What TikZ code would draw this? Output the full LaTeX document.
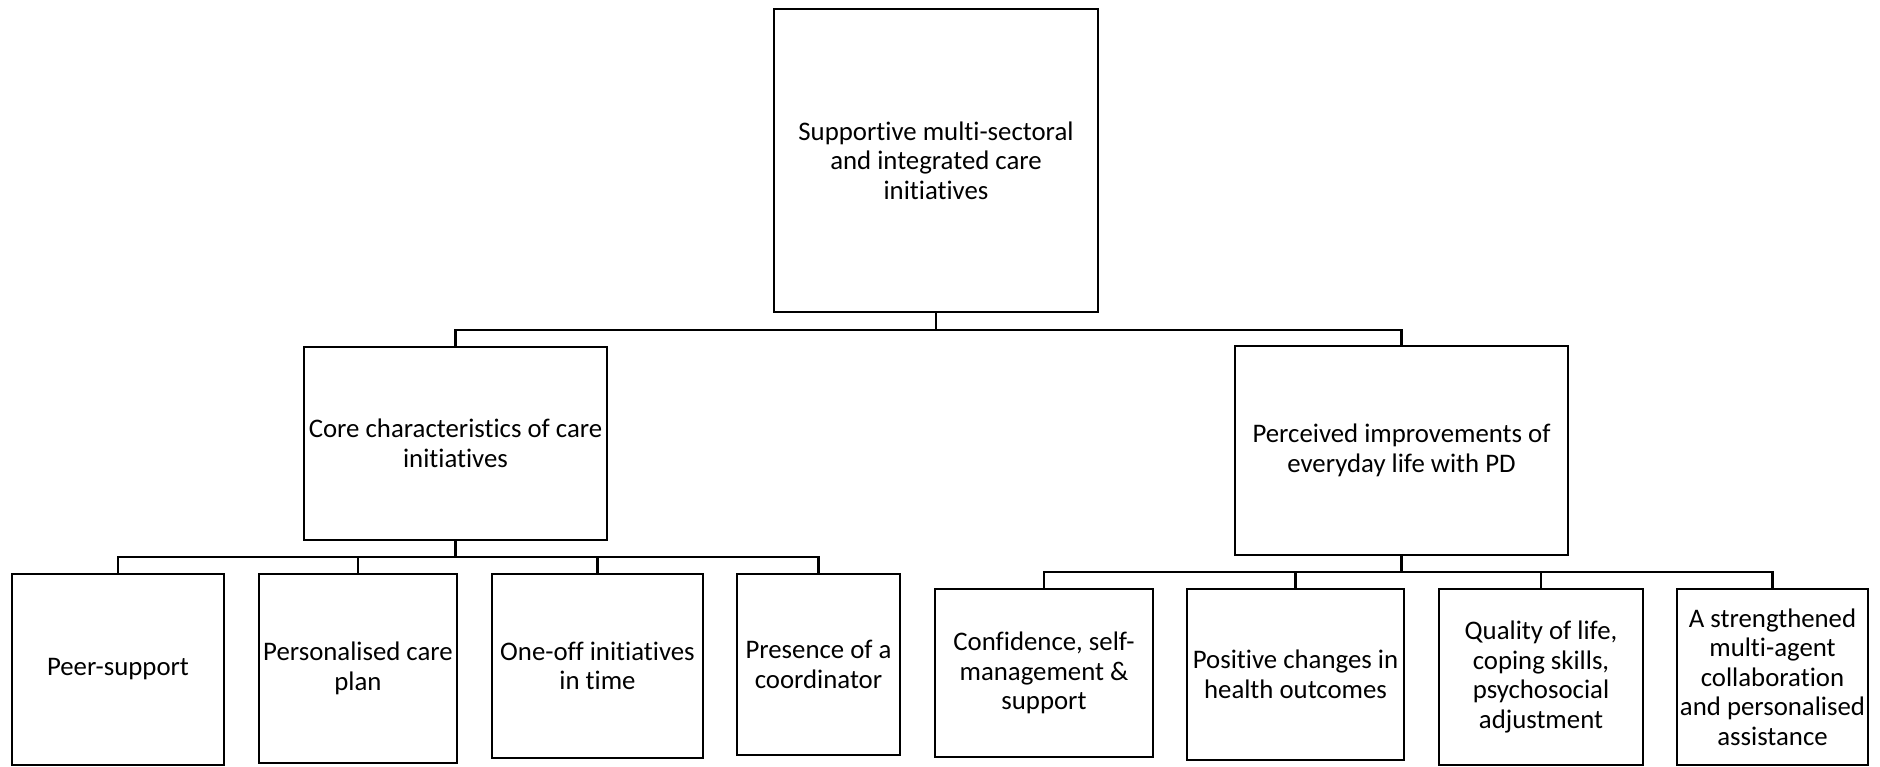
\documentclass[tikz,border=0pt]{standalone}
\usepackage{fontspec}
\setmainfont{Carlito}[Ligatures={NoCommon}]
\begin{document}
\begin{tikzpicture}[x=1pt,y=-1pt,
  box/.style={draw, line width=2.6pt, rectangle, inner sep=0pt, align=center,
              font=\fontsize{26.8}{29.5}\selectfont},
  conn/.style={line width=2.2pt}]
\useasboundingbox[fill=white] (0,0) rectangle (1880,766);
\coordinate (y1) at (0,330);
\coordinate (y2) at (0,557);
\coordinate (y3) at (0,572);
% top
\node[box, minimum width=324pt, minimum height=303pt] (top) at (936,160.5)
  {Supportive multi-sectoral\\and integrated care\\initiatives};
% middle
\node[box, minimum width=303pt, minimum height=193pt] (lm) at (455.5,443.5)
  {Core characteristics of care\\initiatives};
\node[box, minimum width=333pt, minimum height=209pt] (rm) at (1401.5,450.5)
  {Perceived improvements of\\everyday life with PD};
% bottom left
\node[box, minimum width=212pt, minimum height=191pt] (peer) at (118,669.5)
  {Peer-support};
\node[box, minimum width=198pt, minimum height=189pt] (pers) at (358,668.5)
  {Personalised care\\plan};
\node[box, minimum width=211pt, minimum height=184pt] (one) at (597.5,666)
  {One-off initiatives\\in time};
\node[box, minimum width=163pt, minimum height=181pt] (pres) at (818.5,664.5)
  {Presence of a\\coordinator};
% bottom right
\node[box, minimum width=218pt, minimum height=168pt] (conf) at (1044,673)
  {Confidence, self-\\management \&\\support};
\node[box, minimum width=217pt, minimum height=171pt] (pos) at (1295.5,674.5)
  {Positive changes in\\health outcomes};
\node[box, minimum width=204pt, minimum height=176pt] (qual) at (1541,677)
  {Quality of life,\\coping skills,\\psychosocial\\adjustment};
\node[box, minimum width=191pt, minimum height=176pt] (str) at (1772.5,677)
  {A strengthened\\multi-agent\\collaboration\\and personalised\\assistance};
% connectors top
\draw[conn] (top.south) -- (top.south |- y1);
\draw[conn] (lm.north) |- (rm.north |- y1) -- (rm.north);
% connectors left
\draw[conn] (lm.south) -- (lm.south |- y2);
\draw[conn] (peer.north) |- (pres.north |- y2) -- (pres.north);
\draw[conn] (pers.north) -- (pers.north |- y2);
\draw[conn] (one.north) -- (one.north |- y2);
% connectors right
\draw[conn] (rm.south) -- (rm.south |- y3);
\draw[conn] (conf.north) |- (str.north |- y3) -- (str.north);
\draw[conn] (pos.north) -- (pos.north |- y3);
\draw[conn] (qual.north) -- (qual.north |- y3);
\end{tikzpicture}
\end{document}
